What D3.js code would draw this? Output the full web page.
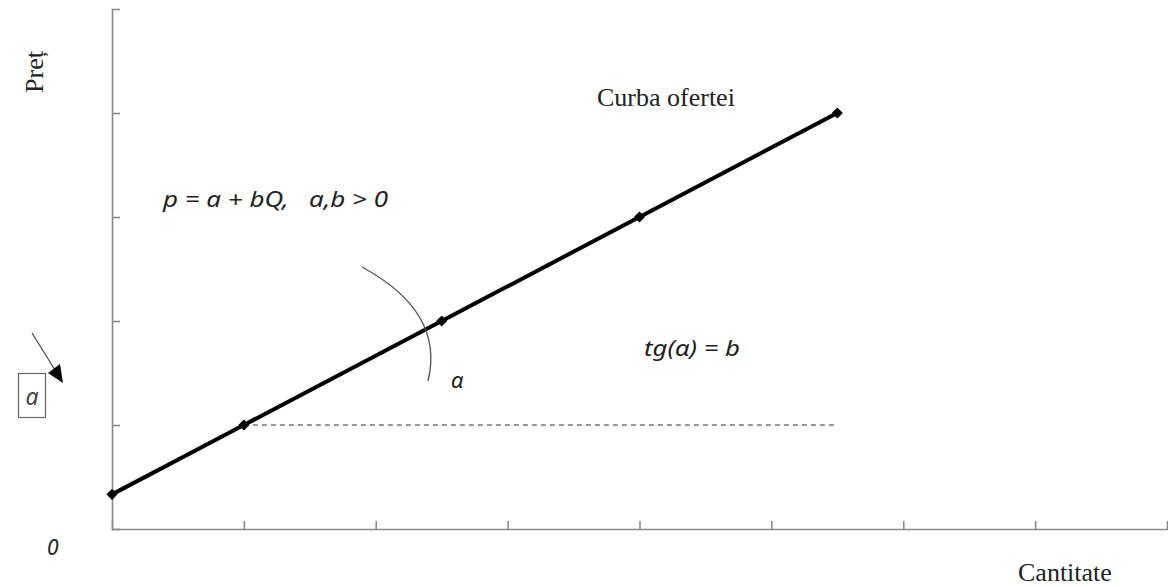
<!DOCTYPE html>
<html>
<head>
<meta charset="utf-8">
<script src="https://cdn.jsdelivr.net/npm/d3@7"></script>
<style>
html,body{margin:0;padding:0;background:#fff;}
svg{display:block;}
</style>
</head>
<body>
<svg id="chart" width="1168" height="587"></svg>
<script>
// ---- data ----
const quantities = [0, 1, 2.5, 4, 5.5];
const prices = [0.333, 1, 2, 3, 4];
const xTicks = [0, 1, 2, 3, 4, 5, 6, 7, 8];
const yTicks = [0, 1, 2, 3, 4, 5];
const dashedFrom = 1;   // index of point where horizontal reference begins
const dashedToQ = 5.5;

const svg = d3.select("#chart");
const x = d3.scaleLinear().domain([0, 8]).range([112, 1167]);
const y = d3.scaleLinear().domain([0, 5]).range([529, 9]);

const axisColor = "#8a8a8a";

// axes
const gx = svg.append("g").attr("transform", `translate(0,${y(0)})`)
  .call(d3.axisBottom(x).tickValues(xTicks.slice(1, -1)).tickSizeInner(-8).tickSizeOuter(-8).tickFormat(""));
const gy = svg.append("g").attr("transform", `translate(${x(0)},0)`)
  .call(d3.axisLeft(y).tickValues(yTicks.slice(1, -1)).tickSizeInner(-8).tickSizeOuter(-8).tickFormat(""));
[gx, gy].forEach(g => {
  g.selectAll("path.domain").attr("stroke", axisColor).attr("stroke-width", 1.6);
  g.selectAll(".tick line").attr("stroke", axisColor).attr("stroke-width", 1.6);
});

// dashed reference line
svg.append("line")
  .attr("x1", x(quantities[dashedFrom])).attr("y1", y(prices[dashedFrom]))
  .attr("x2", x(dashedToQ)).attr("y2", y(prices[dashedFrom]))
  .attr("stroke", "#777").attr("stroke-width", 1.4).attr("stroke-dasharray", "5,4");

// supply curve
const pts = quantities.map((q, i) => [q, prices[i]]);
svg.append("path")
  .datum(pts)
  .attr("d", d3.line().x(d => x(d[0])).y(d => y(d[1])))
  .attr("fill", "none").attr("stroke", "#000").attr("stroke-width", 4);

svg.selectAll("path.mk").data(pts).enter().append("path")
  .attr("class", "mk")
  .attr("transform", d => `translate(${x(d[0])},${y(d[1])}) rotate(45)`)
  .attr("d", d3.symbol().type(d3.symbolSquare).size(62))
  .attr("fill", "#000");

// angle arc
svg.append("path")
  .attr("d", "M362,267 Q445,312 428,381")
  .attr("fill", "none").attr("stroke", "#555").attr("stroke-width", 1.3);

// texts
const serif = "'Liberation Serif','Times New Roman',serif";
const ital = "'Noto Sans','Open Sans',sans-serif";

svg.append("text").attr("transform", "translate(43,72) rotate(-90)")
  .attr("text-anchor", "middle").attr("font-family", serif).attr("font-size", 26).attr("fill", "#222")
  .text("Preț");

svg.append("text").attr("x", 597).attr("y", 106)
  .attr("font-family", serif).attr("font-size", 26).attr("fill", "#222")
  .text("Curba ofertei");

svg.append("text").attr("x", 1018).attr("y", 581)
  .attr("font-family", serif).attr("font-size", 26).attr("fill", "#222")
  .text("Cantitate");

svg.append("text").attr("x", 163).attr("y", 207)
  .attr("font-family", ital).attr("font-style", "italic").attr("font-size", 22).attr("fill", "#222")
  .attr("xml:space", "preserve").attr("textLength", 225).attr("lengthAdjust", "spacingAndGlyphs")
  .text("p = a + bQ,   a,b > 0");

svg.append("text").attr("x", 644).attr("y", 356)
  .attr("font-family", ital).attr("font-style", "italic").attr("font-size", 22).attr("fill", "#222")
  .attr("textLength", 96).attr("lengthAdjust", "spacingAndGlyphs")
  .text("tg(α) = b");

svg.append("text").attr("x", 451).attr("y", 388)
  .attr("font-family", ital).attr("font-style", "italic").attr("font-size", 22).attr("fill", "#222")
  .text("α");

svg.append("text").attr("x", 47).attr("y", 555)
  .attr("font-family", ital).attr("font-style", "italic").attr("font-size", 21).attr("fill", "#222")
  .text("0");

// boxed "a" with arrow
svg.append("rect").attr("x", 18.5).attr("y", 373.5).attr("width", 27).attr("height", 44)
  .attr("fill", "none").attr("stroke", "#666").attr("stroke-width", 1.2);
svg.append("text").attr("x", 32).attr("y", 405).attr("text-anchor", "middle")
  .attr("font-family", ital).attr("font-style", "italic").attr("font-size", 23).attr("fill", "#444")
  .text("a");
svg.append("line").attr("x1", 32).attr("y1", 333).attr("x2", 55).attr("y2", 370)
  .attr("stroke", "#444").attr("stroke-width", 1.2);
svg.append("path").attr("d", "M48,373 L60,364 L63,383 Z").attr("fill", "#000");
</script>
</body>
</html>
